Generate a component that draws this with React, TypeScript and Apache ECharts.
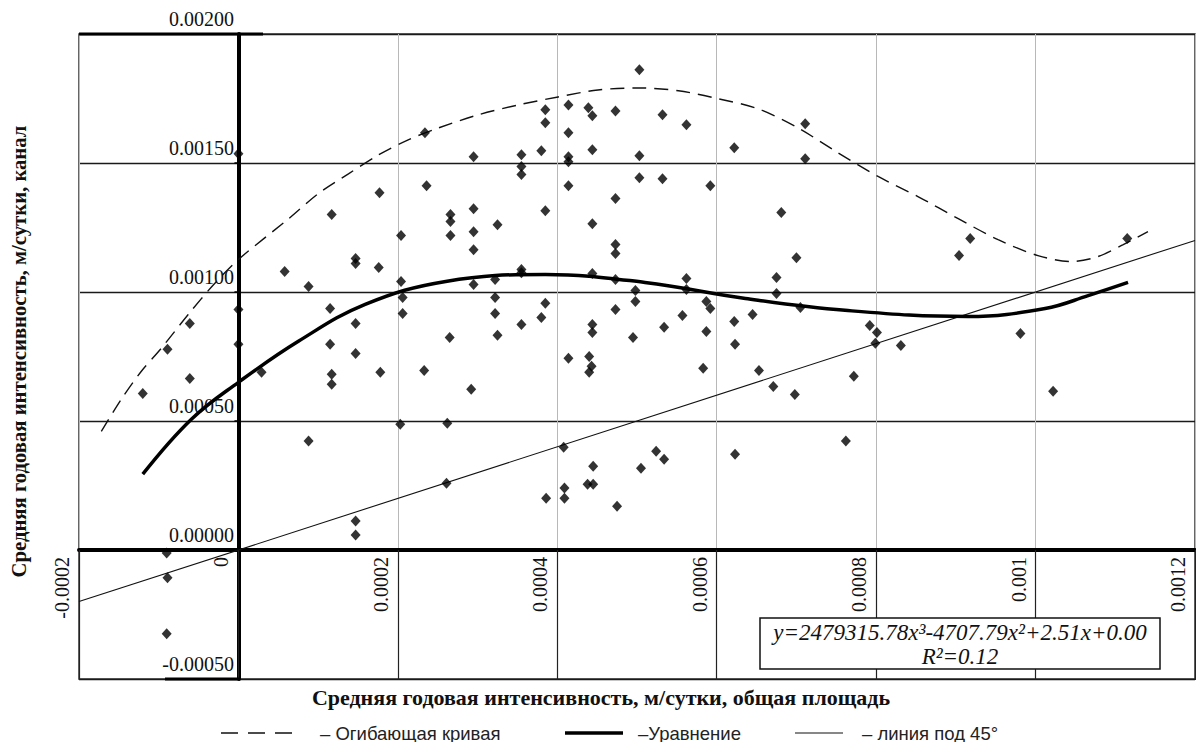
import React, { useEffect, useRef } from "react";
import * as echarts from "echarts";

const xTickValues = [-0.0002, 0, 0.0002, 0.0004, 0.0006, 0.0008, 0.001, 0.0012];
const xTickLabels = ["-0.0002", "0", "0.0002", "0.0004", "0.0006", "0.0008", "0.001", "0.0012"];
const yTickValues = [-0.0005, 0, 0.0005, 0.001, 0.0015, 0.002];
const yTickLabels = ["-0.00050", "0.00000", "0.00050", "0.00100", "0.00150", "0.00200"];

const xTitle = "Средняя годовая интенсивность, м/сутки, общая площадь";
const yTitle = "Средняя годовая интенсивность, м/сутки, канал";
const legendNames = ["– Огибающая кривая", "–Уравнение", "– линия под 45°"];
const equationLine = "y=2479315.78x³-4707.79x²+2.51x+0.00";
const r2Line = "R²=0.12";

// observed points [x, y]
const observations: [number, number][] = [
  [0, 0.001536], [0, 0.000932], [0, 0.000797],
  [0.000117, 0.0013], [0.000177, 0.001385],
  [-0.000061, 0.000878], [-0.000089, 0.000778], [-0.000061, 0.000665], [-0.00012, 0.000607],
  [0.000029, 0.000689], [0.000058, 0.001079], [0.000088, 0.001021], [0.000115, 0.000936],
  [0.000147, 0.00113], [0.000147, 0.00111], [0.000176, 0.001095], [0.000147, 0.000878],
  [0.000115, 0.000797], [0.000147, 0.000762], [0.000117, 0.000681], [0.000117, 0.000642],
  [0.000178, 0.000689], [0.000088, 0.000422],
  [-0.00009, -0.000012], [-0.000089, -0.000108], [-0.00009, -0.000325],
  [0.000147, 0.000112], [0.000147, 0.000058],
  [0.000503, 0.001861], [0.000234, 0.001617], [0.000295, 0.001524], [0.000355, 0.001532],
  [0.00038, 0.001547], [0.000385, 0.001706], [0.000385, 0.001656], [0.000414, 0.001725],
  [0.000439, 0.001714], [0.000444, 0.001683], [0.000473, 0.001702], [0.000532, 0.001687],
  [0.000562, 0.001648], [0.000414, 0.001617], [0.000444, 0.001551], [0.000414, 0.001524],
  [0.000414, 0.001505], [0.000503, 0.001528], [0.000622, 0.001559], [0.000355, 0.001486],
  [0.000355, 0.001455], [0.000236, 0.001412], [0.000414, 0.001412], [0.000503, 0.001443],
  [0.000532, 0.001439], [0.000592, 0.001412], [0.000473, 0.001362], [0.000204, 0.001219],
  [0.000266, 0.0013], [0.000266, 0.001273], [0.000266, 0.001219], [0.000295, 0.001323],
  [0.000295, 0.001234], [0.000295, 0.001164], [0.000325, 0.001261], [0.000385, 0.001315],
  [0.000444, 0.001265], [0.000473, 0.001184], [0.000473, 0.001149], [0.000681, 0.001308],
  [0.000204, 0.001041], [0.000206, 0.000979], [0.000206, 0.000917], [0.000295, 0.001029],
  [0.000322, 0.001048], [0.000355, 0.001087], [0.000355, 0.001075], [0.000322, 0.000979],
  [0.000322, 0.000917], [0.000325, 0.000832], [0.000385, 0.000956], [0.00038, 0.000901],
  [0.000355, 0.000874], [0.000265, 0.000824], [0.000444, 0.001072], [0.000473, 0.001048],
  [0.000498, 0.001006], [0.000498, 0.000963], [0.000473, 0.000932], [0.000444, 0.000874],
  [0.000444, 0.000843], [0.000495, 0.000824], [0.000534, 0.000863], [0.000557, 0.000909],
  [0.000562, 0.001052], [0.000562, 0.00101], [0.000587, 0.000963], [0.000592, 0.000936],
  [0.000587, 0.000847], [0.000622, 0.000886], [0.000623, 0.000797], [0.000645, 0.000913],
  [0.000675, 0.001056], [0.000675, 0.000994], [0.0007, 0.001133], [0.000414, 0.000743],
  [0.00044, 0.00075], [0.000443, 0.000712], [0.00044, 0.000689], [0.000583, 0.000704],
  [0.000653, 0.000696], [0.000671, 0.000634], [0.000698, 0.000603], [0.000233, 0.000696],
  [0.000292, 0.000623], [0.000203, 0.000487], [0.000262, 0.000491], [0.000623, 0.000371],
  [0.000524, 0.000383], [0.000534, 0.000352], [0.000505, 0.000317], [0.000445, 0.000325],
  [0.000408, 0.000398], [0.000261, 0.000259], [0.000438, 0.000255], [0.000445, 0.000255],
  [0.000409, 0.00024], [0.000409, 0.000201], [0.000386, 0.000201], [0.000475, 0.00017],
  [0.000711, 0.001652], [0.000711, 0.001516], [0.000918, 0.001207], [0.001115, 0.001207],
  [0.000705, 0.00094], [0.000904, 0.001141], [0.000792, 0.00087], [0.000801, 0.000843],
  [0.000799, 0.000801], [0.000831, 0.000793], [0.000772, 0.000673], [0.000981, 0.000839],
  [0.001022, 0.000615], [0.000762, 0.000422],
];

// envelope curve (dashed)
const envelopeX = [-0.000172, -0.000147, -0.000122, -0.000097, -0.000063, -0.000031, 0, 0.000063, 0.0001, 0.000138, 0.000176, 0.000213, 0.000251, 0.000301, 0.000351, 0.000401, 0.000451, 0.000502, 0.000552, 0.000602, 0.000652, 0.000702, 0.000752, 0.000803, 0.000853, 0.000903, 0.000953, 0.001003, 0.001045, 0.001078, 0.00111, 0.001141];
const envelopeY = [0.00046, 0.000584, 0.000692, 0.000781, 0.000913, 0.001029, 0.001126, 0.001284, 0.001381, 0.001458, 0.001532, 0.00159, 0.001636, 0.001687, 0.001725, 0.001756, 0.001783, 0.001791, 0.00178, 0.001749, 0.00171, 0.001636, 0.00154, 0.001447, 0.001369, 0.001284, 0.001203, 0.001141, 0.001118, 0.001137, 0.001184, 0.001234];

// regression curve (thick)
const fitX = [-0.00012, -0.000059, 0, 0.0000752, 0.000159, 0.00026, 0.000385, 0.00051, 0.000636, 0.000761, 0.000915, 0.001012, 0.001066, 0.001116];
const fitY = [0.000294, 0.000507, 0.00065, 0.000809, 0.000952, 0.001041, 0.001068, 0.001037, 0.000975, 0.000929, 0.000905, 0.000936, 0.000986, 0.001037];

// 45-degree line
const diagonalX = [-0.0002, 0.0012];

const SERIF = '"Liberation Serif", "Times New Roman", serif';
const SANS = '"Liberation Sans", Arial, sans-serif';

function pick(vals: number[], labels: string[], v: number) {
  let best = 0;
  for (let i = 1; i < vals.length; i++) {
    if (Math.abs(vals[i] - v) < Math.abs(vals[best] - v)) best = i;
  }
  return labels[best];
}

export default function App() {
  const ref = useRef<HTMLDivElement>(null);
  useEffect(() => {
    if (!ref.current) return;
    const chart = echarts.init(ref.current, null, { renderer: "svg" });
    const legendY = 733;
    chart.setOption({
      animation: false,
      backgroundColor: "#fff",
      grid: {
        left: 79, top: 34, right: 1, bottom: 63,
        show: true, borderColor: "#333", borderWidth: 1.5,
        containLabel: false, outerBoundsMode: "none",
      },
      xAxis: {
        type: "value",
        min: -0.0002,
        max: 0.0012,
        interval: 0.0002,
        axisLine: { onZero: true, lineStyle: { color: "#000", width: 4 } },
        axisTick: { show: true, length: 130, lineStyle: { color: "#222", width: 1.2 } },
        splitLine: { show: true, lineStyle: { color: "#b8b8b8", width: 1 } },
        axisLabel: {
          rotate: 90,
          margin: -122,
          verticalAlign: "bottom",
          padding: [0, 0, 7, 0],
          fontFamily: SERIF,
          fontSize: 20,
          color: "#111",
          formatter: (v: number) => pick(xTickValues, xTickLabels, v),
        },
        name: xTitle,
        nameLocation: "middle",
        nameGap: 7,
        nameTextStyle: { fontFamily: SERIF, fontWeight: "bold", fontSize: 22, color: "#111", padding: [0, 72, 0, 0] },
      },
      yAxis: {
        type: "value",
        min: -0.0005,
        max: 0.002,
        interval: 0.0005,
        axisLine: { onZero: true, lineStyle: { color: "#000", width: 4 } },
        axisTick: { show: true, length: 4, lineStyle: { color: "#000", width: 1.5 } },
        splitLine: { show: true, lineStyle: { color: "#1a1a1a", width: 1.3 } },
        axisLabel: {
          margin: -155,
          verticalAlign: "bottom",
          padding: [0, 0, 5, 0],
          fontFamily: SERIF,
          fontSize: 20,
          color: "#111",
          formatter: (v: number) => pick(yTickValues, yTickLabels, v),
        },
        name: yTitle,
        nameLocation: "middle",
        nameGap: 50,
        nameRotate: 90,
        nameTextStyle: { fontFamily: SERIF, fontWeight: "bold", fontSize: 20.7, color: "#111", padding: [0, 0, 0, 10] },
      },
      series: [
        {
          type: "line",
          name: legendNames[2],
          data: diagonalX.map((v) => [v, v]),
          symbol: "none",
          lineStyle: { color: "#111", width: 1.1 },
          z: 2,
        },
        {
          type: "line",
          name: legendNames[0],
          data: envelopeX.map((v, i) => [v, envelopeY[i]]),
          symbol: "none",
          smooth: 0.3,
          lineStyle: { color: "#111", width: 1.4, type: [14, 8] },
          z: 2,
        },
        {
          type: "line",
          name: legendNames[1],
          data: fitX.map((v, i) => [v, fitY[i]]),
          symbol: "none",
          smooth: 0.4,
          lineStyle: { color: "#000", width: 3.5 },
          z: 2,
        },
        {
          type: "scatter",
          name: "points",
          data: observations,
          symbol: "diamond",
          symbolSize: [10, 11],
          itemStyle: { color: "#000" },
          z: 3,
        },
      ],
      graphic: [
        {
          type: "line",
          shape: { x1: 79, y1: 34, x2: 263, y2: 34 },
          style: { stroke: "#000", lineWidth: 3 },
          z: 5,
        },
        {
          type: "line",
          shape: { x1: 165, y1: 679, x2: 240, y2: 679 },
          style: { stroke: "#000", lineWidth: 3 },
          z: 5,
        },
        {
          type: "rect",
          shape: { x: 760, y: 618, width: 400, height: 51 },
          style: { fill: "#fff", stroke: "#111", lineWidth: 1.5 },
          z: 10,
        },
        {
          type: "text",
          x: 960,
          y: 632,
          style: { text: equationLine, fontFamily: SERIF, fontStyle: "italic", fontSize: 23, fill: "#111", align: "center", verticalAlign: "middle" },
          z: 11,
        },
        {
          type: "text",
          x: 960,
          y: 656,
          style: { text: r2Line, fontFamily: SERIF, fontStyle: "italic", fontSize: 23, fill: "#111", align: "center", verticalAlign: "middle" },
          z: 11,
        },
        {
          type: "line",
          shape: { x1: 221, y1: legendY, x2: 300, y2: legendY },
          style: { stroke: "#111", lineWidth: 1.3, lineDash: [17, 10] },
        },
        {
          type: "text",
          x: 320,
          y: legendY,
          style: { text: legendNames[0], fontFamily: SANS, fontSize: 18.5, fill: "#222", verticalAlign: "middle" },
        },
        {
          type: "line",
          shape: { x1: 565, y1: legendY, x2: 623, y2: legendY },
          style: { stroke: "#000", lineWidth: 3.5 },
        },
        {
          type: "text",
          x: 638,
          y: legendY,
          style: { text: legendNames[1], fontFamily: SANS, fontSize: 18.5, fill: "#222", verticalAlign: "middle" },
        },
        {
          type: "line",
          shape: { x1: 795, y1: legendY, x2: 843, y2: legendY },
          style: { stroke: "#111", lineWidth: 1.1 },
        },
        {
          type: "text",
          x: 862,
          y: legendY,
          style: { text: legendNames[2], fontFamily: SANS, fontSize: 18.5, fill: "#222", verticalAlign: "middle" },
        },
      ],
    });
    return () => chart.dispose();
  }, []);
  return (
    <div
      ref={ref}
      style={{ position: "fixed", left: 0, top: 0, width: 1196, height: 742, background: "#fff" }}
    />
  );
}
